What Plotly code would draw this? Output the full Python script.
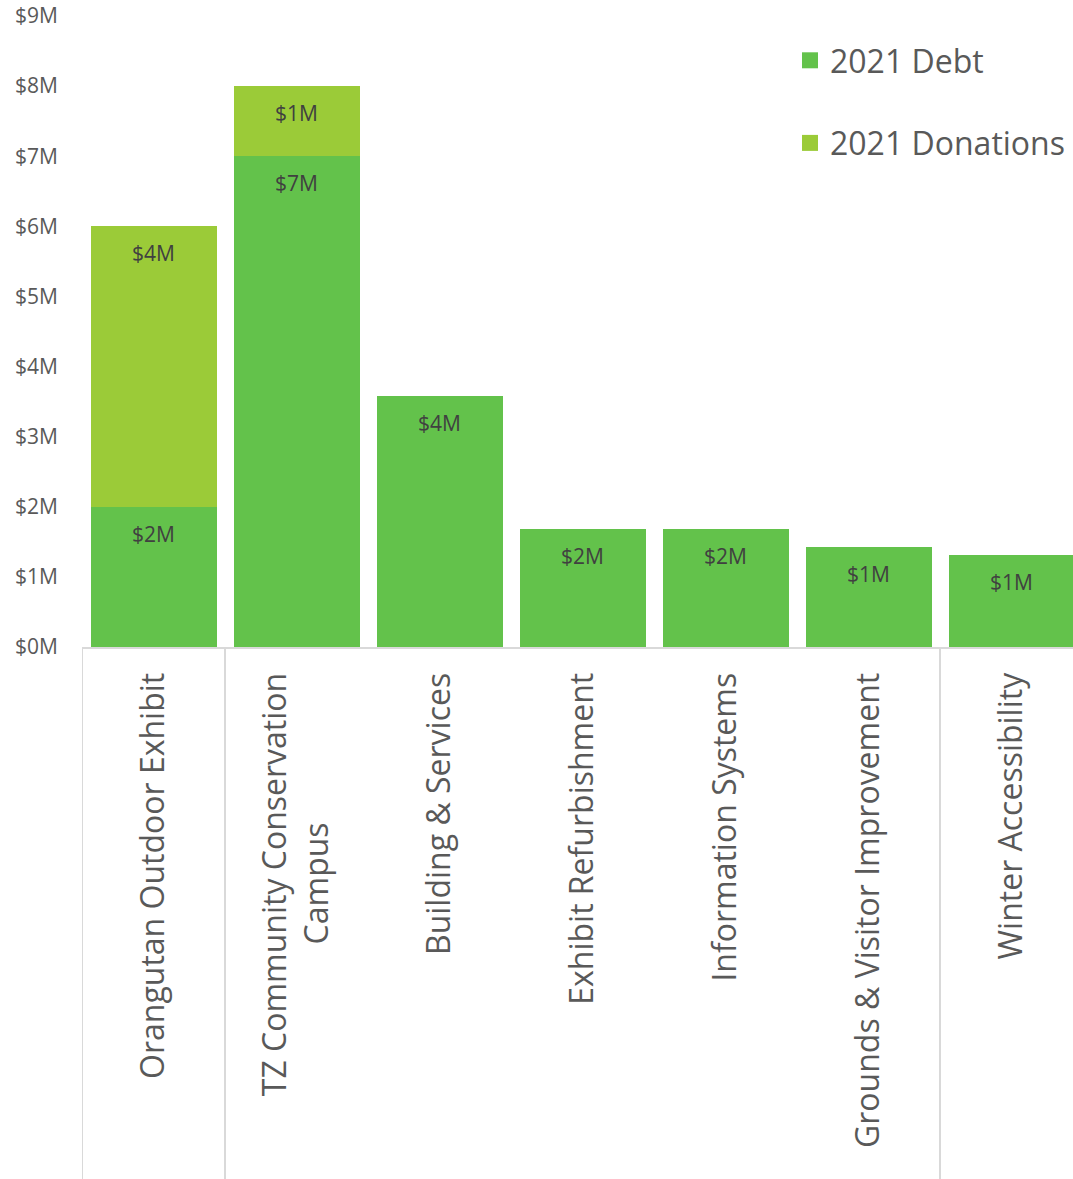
import plotly.graph_objects as go

NBSP = "\u00a0"
categories = [
    "Orangutan Outdoor Exhibit",
    "TZ Community Conservation<br>Campus" + NBSP * 18,
    "Building & Services",
    "Exhibit Refurbishment",
    "Information Systems",
    "Grounds & Visitor Improvement",
    "Winter Accessibility",
]
debt = [2.0, 7.0, 3.58, 1.68, 1.68, 1.43, 1.31]
donations = [4.0, 1.0, None, None, None, None, None]
y_ticks = list(range(0, 10))

DEBT_COLOR = "#63C24B"
DON_COLOR = "#9BCB38"
TEXT_GRAY = "#595959"
LABEL_GRAY = "#404040"
FONT = "Open Sans"

fig = go.Figure()
fig.add_trace(go.Bar(
    x=categories, y=debt, name="2021 Debt",
    marker=dict(color=DEBT_COLOR, line=dict(width=0)),
    showlegend=False, hoverinfo="y",
))
fig.add_trace(go.Bar(
    x=categories, y=donations, name="2021 Donations",
    marker=dict(color=DON_COLOR, line=dict(width=0)),
    showlegend=False, hoverinfo="y",
))
# legend entries
for nm, col, grp in [("2021 Debt", DEBT_COLOR, "a"), ("2021 Donations", DON_COLOR, "b")]:
    fig.add_trace(go.Scatter(
        x=[None], y=[None], mode="markers", name=nm, legendgroup=grp,
        marker=dict(symbol="square", size=20, color=col),
    ))

# data labels near the top of each segment
for cat, d, dn in zip(categories, debt, donations):
    segs = [(d, d)]
    if dn is not None:
        segs.append((d + dn, dn))
    for top, val in segs:
        fig.add_annotation(
            x=cat, y=top, text=f"${val:.0f}M", showarrow=False,
            yshift=-27, yanchor="middle",
            font=dict(family=FONT, size=21, color=LABEL_GRAY),
        )

H = 1179
W = 1073
plot_top = 16
plot_bottom = 647
ml = 82
plot_h = plot_bottom - plot_top
bottom_margin = H - plot_bottom
plot_w = W - ml
cat_px = 143
range_right = -0.5 + plot_w / cat_px

for xv in [-0.5, 0.5, 5.5]:
    fig.add_shape(type="line", xref="x", yref="paper", x0=xv, x1=xv,
                  y0=0, y1=-bottom_margin / plot_h,
                  line=dict(color="#D9D9D9", width=2), layer="below")

fig.update_layout(
    width=W, height=H,
    margin=dict(l=ml, r=0, t=plot_top, b=bottom_margin, pad=0, autoexpand=False),
    barmode="stack", bargap=17 / 143,
    plot_bgcolor="white", paper_bgcolor="white",
    font=dict(family=FONT, color=TEXT_GRAY),
    legend=dict(
        x=708 / plot_w, y=614 / plot_h,
        xanchor="left", yanchor="top",
        font=dict(family=FONT, size=32, color=TEXT_GRAY),
        tracegroupgap=38, bgcolor="rgba(0,0,0,0)",
    ),
    xaxis=dict(
        range=[-0.5, range_right], showgrid=False, showline=True,
        linecolor="#D9D9D9", linewidth=2, ticks="", tickangle=-90,
        tickfont=dict(family=FONT, size=32, color=TEXT_GRAY),
        ticklabelstandoff=11, fixedrange=True, automargin=False,
    ),
    yaxis=dict(
        range=[0, 9], tickvals=y_ticks, ticktext=[f"${v}M" for v in y_ticks],
        showgrid=False, showline=False, zeroline=False, ticks="",
        tickfont=dict(family=FONT, size=21, color=TEXT_GRAY),
        ticklabelstandoff=23, fixedrange=True, automargin=False,
        ticklabeloverflow="allow",
    ),
)

fig.write_html(
    "out.html",
    config={"displayModeBar": False},
    post_script="document.body.style.margin='0px';document.body.style.overflow='hidden';",
)
